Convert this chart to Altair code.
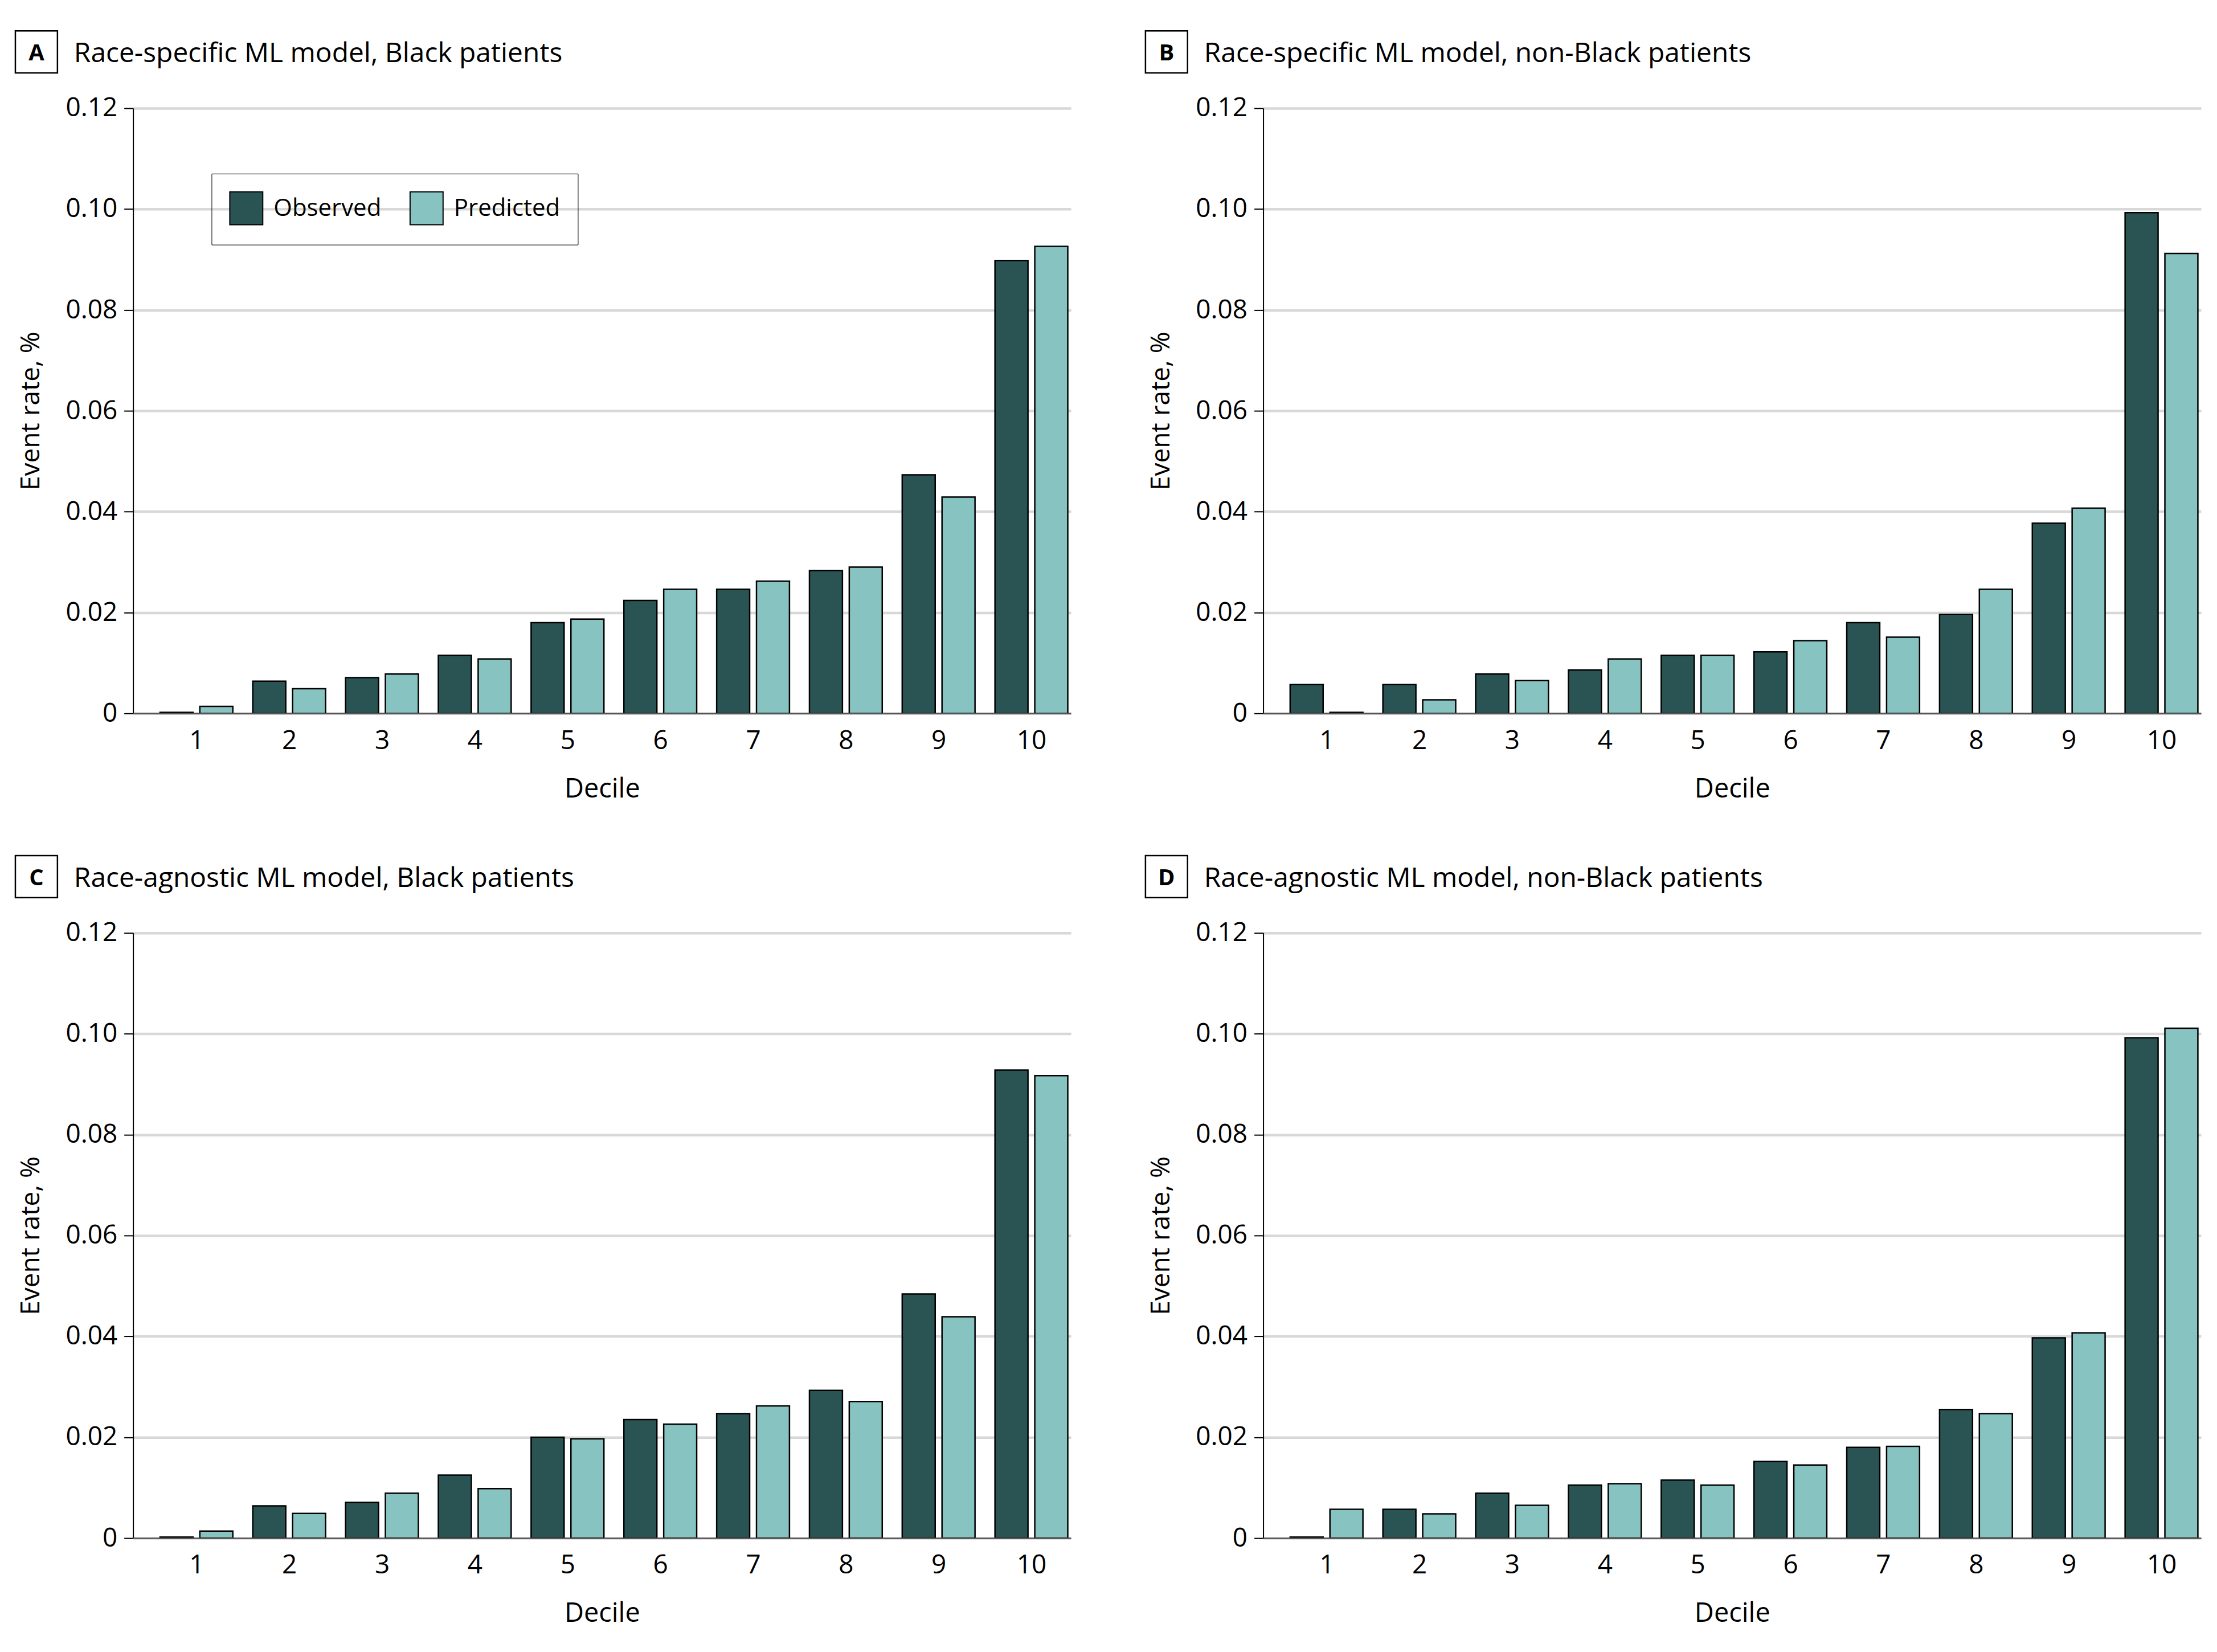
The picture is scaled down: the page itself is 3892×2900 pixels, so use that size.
import altair as alt
import pandas as pd

deciles = [1, 2, 3, 4, 5, 6, 7, 8, 9, 10]
series_names = ["Observed", "Predicted"]
y_ticks = [0, 0.02, 0.04, 0.06, 0.08, 0.10, 0.12]

a_observed = [0.0002, 0.0064, 0.0071, 0.0115, 0.0180, 0.0224, 0.0246, 0.0283, 0.0473, 0.0898]
a_predicted = [0.0014, 0.0049, 0.0078, 0.0108, 0.0187, 0.0246, 0.0262, 0.0290, 0.0429, 0.0926]
b_observed = [0.0057, 0.0057, 0.0078, 0.0086, 0.0115, 0.0122, 0.0180, 0.0196, 0.0377, 0.0993]
b_predicted = [0.0002, 0.0027, 0.0065, 0.0108, 0.0115, 0.0144, 0.0151, 0.0246, 0.0407, 0.0912]
c_observed = [0.0002, 0.0064, 0.0071, 0.0125, 0.0200, 0.0235, 0.0247, 0.0293, 0.0484, 0.0928]
c_predicted = [0.0014, 0.0049, 0.0089, 0.0098, 0.0197, 0.0226, 0.0262, 0.0271, 0.0439, 0.0917]
d_observed = [0.0002, 0.0057, 0.0089, 0.0105, 0.0115, 0.0152, 0.0180, 0.0255, 0.0397, 0.0992]
d_predicted = [0.0057, 0.0048, 0.0065, 0.0108, 0.0105, 0.0145, 0.0182, 0.0247, 0.0407, 0.1011]

panel_letters = ["A", "B", "C", "D"]
panel_titles = [
    "Race-specific ML model, Black patients",
    "Race-specific ML model, non-Black patients",
    "Race-agnostic ML model, Black patients",
    "Race-agnostic ML model, non-Black patients",
]

DARK = "#2A5454"
LIGHT = "#86C3C1"
FONT = "Open Sans"
W, H = 1649, 1064


def panel(letter, title, observed, predicted, show_legend):
    df = pd.DataFrame({
        "decile": deciles * 2,
        "series": [series_names[0]] * 10 + [series_names[1]] * 10,
        "value": observed + predicted,
    })
    x = alt.X(
        "decile:Q",
        scale=alt.Scale(domain=[0.348, 10.396], nice=False, zero=False),
        axis=alt.Axis(
            values=deciles, format="d", title="Decile", grid=False, ticks=False,
            domain=True, domainColor="#555555", domainWidth=2.5,
            labelFontSize=46, labelPadding=26, labelColor="black",
            titleFontSize=47, titleFontWeight="normal", titlePadding=39,
            titleColor="black", zindex=1,
        ),
    )
    y = alt.Y(
        "value:Q",
        scale=alt.Scale(domain=[0, 0.12], nice=False),
        axis=alt.Axis(
            values=y_ticks, title="Event rate, %",
            labelExpr="datum.value == 0 ? '0' : format(datum.value, '.2f')",
            grid=True, gridColor="#D8D8D8", gridWidth=4.5,
            domain=True, domainColor="black", domainWidth=2,
            ticks=True, tickColor="black", tickSize=16, tickWidth=2,
            labelFontSize=46, labelPadding=12, labelColor="black",
            titleFontSize=46, titleFontWeight="normal", titlePadding=36,
            titleColor="black",
        ),
    )
    if show_legend:
        legend = alt.Legend(
            orient="none", legendX=138, legendY=115, direction="horizontal",
            title=None, symbolType="square", symbolSize=3364,
            symbolStrokeColor="black", symbolStrokeWidth=2,
            labelFontSize=42, labelFont=FONT, labelColor="black", labelOffset=18,
            labelLimit=600, columnPadding=46, padding=31, strokeColor="black",
        )
    else:
        legend = None
    color = alt.Color(
        "series:N",
        scale=alt.Scale(domain=series_names, range=[DARK, LIGHT]),
        legend=legend,
    )
    base = alt.Chart(df)
    obs = base.transform_filter(alt.datum.series == series_names[0]).mark_bar(
        width=58, stroke="black", strokeWidth=2.5, xOffset=-35
    ).encode(x=x, y=y, color=color)
    pred = base.transform_filter(alt.datum.series == series_names[1]).mark_bar(
        width=58, stroke="black", strokeWidth=2.5, xOffset=35
    ).encode(x=x, y=y, color=color)

    lab = alt.Chart(pd.DataFrame({"letter": [letter], "title": [title]}))
    box = lab.mark_rect(fill="white", stroke="black", strokeWidth=2.5).encode(
        x=alt.value(-207), x2=alt.value(-133), y=alt.value(-136), y2=alt.value(-62)
    )
    letter_txt = lab.mark_text(
        fontSize=40, fontWeight="bold", align="center", baseline="alphabetic",
        font=FONT, color="black",
    ).encode(x=alt.value(-170), y=alt.value(-84), text="letter:N")
    title_txt = lab.mark_text(
        fontSize=48, align="left", baseline="alphabetic", font=FONT, color="black",
    ).encode(x=alt.value(-104), y=alt.value(-81), text="title:N")

    return alt.layer(obs, pred, box, letter_txt, title_txt).properties(width=W, height=H)


pa = panel(panel_letters[0], panel_titles[0], a_observed, a_predicted, True)
pb = panel(panel_letters[1], panel_titles[1], b_observed, b_predicted, False)
pc = panel(panel_letters[2], panel_titles[2], c_observed, c_predicted, False)
pd_ = panel(panel_letters[3], panel_titles[3], d_observed, d_predicted, False)

chart = alt.concat(
    pa, pb, pc, pd_, columns=2,
    spacing={"row": 386, "column": 338},
    bounds="flush",
    padding={"left": 17, "top": 42, "right": 20, "bottom": 20},
).resolve_scale(color="independent").configure(
    font=FONT
).configure_view(stroke=None)

chart.save("out.html", embed_options={"renderer": "svg", "actions": False})
